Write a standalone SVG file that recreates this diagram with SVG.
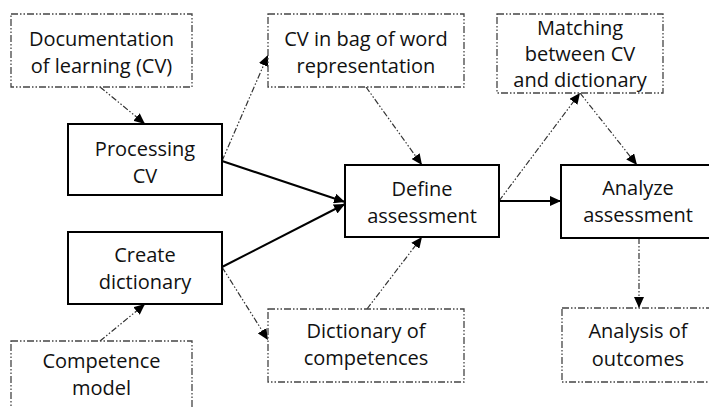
<svg xmlns="http://www.w3.org/2000/svg" width="709" height="408" viewBox="0 0 709 408">
<style>
text{font-family:"Open Sans","Noto Sans","Liberation Sans",sans-serif;font-size:20px;fill:#111;text-anchor:middle}
.solid{fill:#fff;stroke:#000;stroke-width:2}
.dash{fill:#fff;stroke:#444;stroke-width:1.3;stroke-dasharray:7 2 1.5 2 1.5 2}
.c{fill:none;stroke:#333;stroke-width:1.2;stroke-dasharray:6 2 1.5 2 1.5 2}
.s{fill:none;stroke:#000;stroke-width:2}
</style>
<defs>
<marker id="ah" markerUnits="userSpaceOnUse" markerWidth="12" markerHeight="10" refX="11" refY="5" orient="auto">
<path d="M0,0 L11,5 L0,10 Z" fill="#000"/>
</marker>
</defs>
<rect width="709" height="408" fill="#fff"/>
<g id="connectors">
<line class="c" x1="100" y1="87" x2="145" y2="124" marker-end="url(#ah)"/>
<line class="c" x1="222" y1="161" x2="268" y2="55" marker-end="url(#ah)"/>
<line class="c" x1="366" y1="87" x2="422" y2="165" marker-end="url(#ah)"/>
<line class="s" x1="222" y1="161" x2="345" y2="202" marker-end="url(#ah)"/>
<line class="s" x1="222" y1="267" x2="345" y2="204" marker-end="url(#ah)"/>
<line class="c" x1="222" y1="267" x2="268" y2="340" marker-end="url(#ah)"/>
<line class="c" x1="100" y1="341" x2="145" y2="304" marker-end="url(#ah)"/>
<line class="c" x1="367" y1="309" x2="422" y2="237" marker-end="url(#ah)"/>
<line class="c" x1="499" y1="201" x2="580" y2="93" marker-end="url(#ah)"/>
<line class="c" x1="580" y1="93" x2="637" y2="165" marker-end="url(#ah)"/>
<line class="s" x1="499" y1="201" x2="561" y2="201" marker-end="url(#ah)"/>
<line class="c" x1="639" y1="238" x2="639" y2="308" marker-end="url(#ah)"/>
</g>
<g id="documentation">
<rect class="dash" x="11" y="14" width="181" height="73"/>
<text x="101.5" y="46">Documentation</text>
<text x="101.5" y="73">of learning (CV)</text>
</g>
<g id="processing">
<rect class="solid" x="68" y="124" width="154" height="71"/>
<text x="145" y="156">Processing</text>
<text x="145" y="183">CV</text>
</g>
<g id="create">
<rect class="solid" x="68" y="232" width="154" height="72"/>
<text x="145" y="262">Create</text>
<text x="145" y="289">dictionary</text>
</g>
<g id="competence">
<rect class="dash" x="11" y="341" width="181" height="80"/>
<text x="101.5" y="368">Competence</text>
<text x="101.5" y="395">model</text>
</g>
<g id="cvbag">
<rect class="dash" x="268" y="14" width="196" height="73"/>
<text x="366" y="46">CV in bag of word</text>
<text x="366" y="73">representation</text>
</g>
<g id="define">
<rect class="solid" x="345" y="165" width="154" height="72"/>
<text x="422" y="196">Define</text>
<text x="422" y="223">assessment</text>
</g>
<g id="dictcomp">
<rect class="dash" x="268" y="309" width="196" height="73"/>
<text x="366" y="338">Dictionary of</text>
<text x="366" y="365">competences</text>
</g>
<g id="matching">
<rect class="dash" x="497" y="14" width="166" height="79"/>
<text x="580" y="35">Matching</text>
<text x="580" y="61">between CV</text>
<text x="580" y="87">and dictionary</text>
</g>
<g id="analyze">
<rect class="solid" x="561" y="165" width="154" height="73"/>
<text x="638" y="195">Analyze</text>
<text x="638" y="222">assessment</text>
</g>
<g id="analysis">
<rect class="dash" x="562" y="308" width="154" height="74"/>
<text x="638" y="338">Analysis of</text>
<text x="638" y="366">outcomes</text>
</g>
</svg>
